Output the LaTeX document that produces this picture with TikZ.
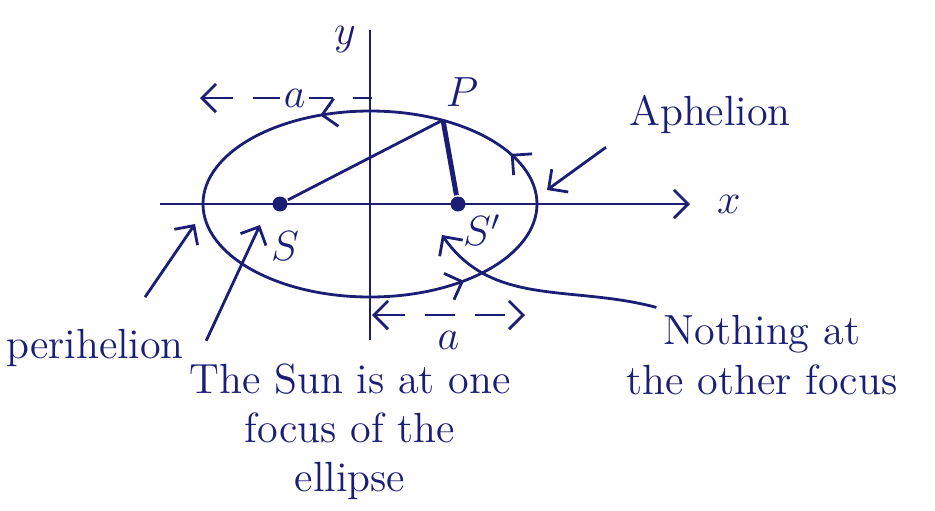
\documentclass[tikz,border=0pt]{standalone}
\usepackage{tikz}
\usetikzlibrary{calc, positioning, arrows.meta, decorations.markings}
\usepackage{xcolor}
\definecolor{ink}{RGB}{28, 30, 118}

\tikzset{
  focus/.style={circle, fill=ink, inner sep=0pt, minimum size=1.5mm},
  dimline/.style={dash pattern=on 3mm off 2mm},
  orbitarrows/.style={postaction={decorate}, decoration={markings,
      mark=at position 0.07 with {\arrow{>}},
      mark=at position 0.31 with {\arrow{>}},
      mark=at position 0.865 with {\arrow{>}}}}
}

\begin{document}
\begin{tikzpicture}[>={Straight Barb[length=4pt]}, font=\large, color=ink, line width=0.8pt]
  \useasboundingbox (0,0) rectangle (9.35,5.10);

  % axes
  \coordinate (xl) at (1.60,3.06);
  \coordinate (xr) at (6.90,3.06);
  \coordinate (yb) at (3.70,1.70);
  \coordinate (yt) at (3.70,4.80);
  \draw[->] (xl) -- (xr) node[right=4pt] (xlab) {$x$};
  \draw (yb) -- (yt);
  \node (ylab) at (3.45,4.70) {$y$};

  % orbit
  \coordinate (O) at (3.70,3.06);
  \draw[orbitarrows] (O) ellipse [x radius=1.67, y radius=0.93];

  \node[focus] (S) at (2.80,3.06) {};
  \node[focus] (S1) at (4.58,3.06) {};
  \node (Slab) at (2.85,2.64) {$S$};
  \node (S1lab) at (4.82,2.80) {$S'$};

  \coordinate (P) at (4.43,3.90);
  \node (Plab) at (4.62,4.18) {$P$};
  \draw (P) -- (S);
  \draw[line width=1.4pt] (P) -- (S1);

  % semi-major axis a
  \coordinate (ta1) at (2.00,4.12);
  \coordinate (ta2) at (3.72,4.12);
  \draw[<-, dimline] (ta1) -- (ta2) node[pos=0.55, fill=white, inner sep=1pt] {$a$};
  \coordinate (ba1) at (3.72,1.95);
  \coordinate (ba2) at (5.25,1.95);
  \draw[<->, dimline] (ba1) -- (ba2) node[midway, below=1pt] {$a$};

  % labels
  \node (aph) at (7.10,3.95) {Aphelion};
  \node (peri) at (0.95,1.62) {perihelion};
  \node[align=center] (sun) at (3.50,0.78) {The Sun is at one\\focus of the\\ellipse};
  \node[align=center] (noth) at (7.62,1.55) {Nothing at\\the other focus};

  \coordinate (aphpt) at (5.47,3.20);
  \coordinate (peript) at (1.95,2.86);
  \coordinate (sunpt) at (2.60,2.85);
  \coordinate (s1pt) at (4.42,2.75);
  \draw[->] ([xshift=-1mm]aph.south west) -- (aphpt);
  \draw[->] ([shift={(0.5,0.19)}]peri.north) -- (peript);
  \draw[->] ([shift={(0.3,0.1)}]sun.north west) -- (sunpt);
  \draw[->] ([shift={(0.43,-0.05)}]noth.north west) to[out=165, in=-55] (s1pt);
\end{tikzpicture}
\end{document}
